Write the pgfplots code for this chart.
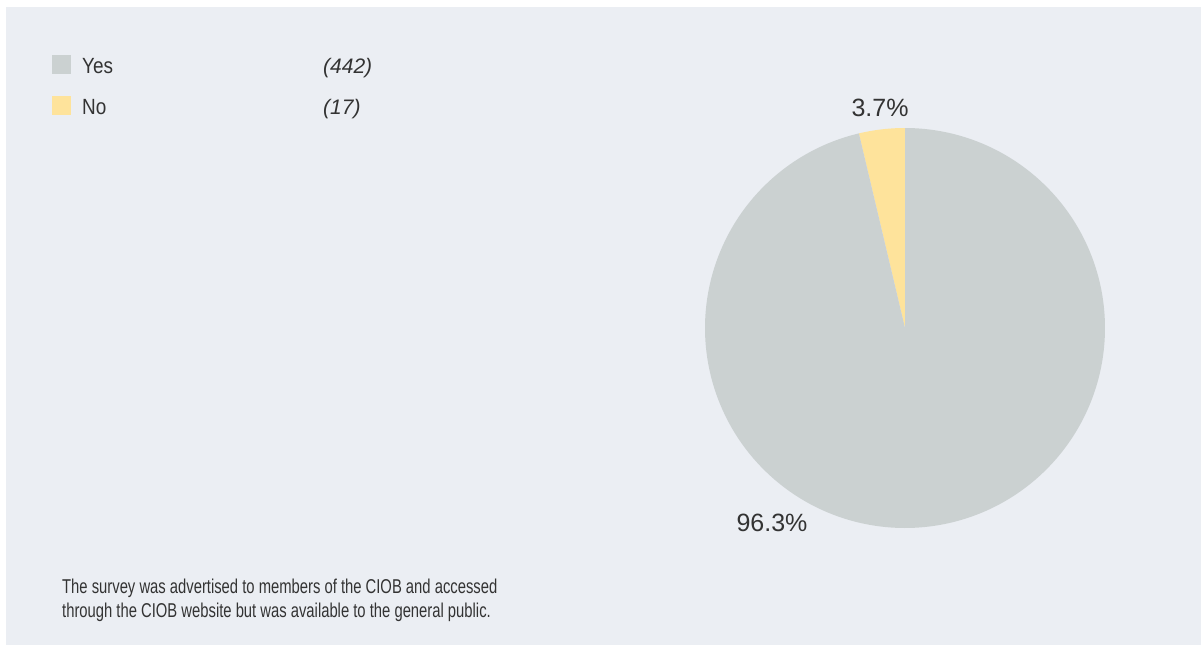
\documentclass[border=0pt]{standalone}
\usepackage{fontspec}
\setmainfont{Liberation Sans}
\newfontfamily\condfont{Liberation Sans}[FakeStretch=0.86]
\newfontfamily\notefont{Liberation Sans}[FakeStretch=0.74]
\usepackage{pgfplots}
\pgfplotsset{compat=1.18}

\definecolor{panel}{HTML}{EBEEF3}
\definecolor{yesgray}{HTML}{CBD1D1}
\definecolor{noyellow}{HTML}{FEE39B}
\definecolor{ink}{HTML}{333333}

% survey answers
\def\yescount{442}
\def\nocount{17}

\begin{document}
\begin{tikzpicture}
\pgfmathsetmacro{\total}{\yescount+\nocount}
\pgfmathsetmacro{\noShare}{\nocount/\total}
\pgfmathsetmacro{\yesShare}{\yescount/\total}
\pgfmathsetmacro{\noEnd}{90+360*\noShare}
\pgfmathsetmacro{\yesEnd}{450}
\pgfmathsetmacro{\noPct}{100*\noShare}
\pgfmathsetmacro{\yesPct}{100*\yesShare}
\begin{axis}[
  scale only axis, width=1203pt, height=645pt,
  xmin=0, xmax=1203, ymin=0, ymax=645, y dir=reverse,
  hide axis, clip=false,
]
  % page and panel
  \path[fill=white] (axis cs:0,0) rectangle (axis cs:1203,645);
  \path[fill=panel] (axis cs:6,7) rectangle (axis cs:1201,645);

  % pie: centre (905,328), radius 200, starting at the top
  \addplot[fill=noyellow, draw=none, domain=90:\noEnd, samples=40, variable=\t]
    ({905+200*cos(\t)},{328-200*sin(\t)}) -- (axis cs:905,328) -- cycle;
  \addplot[fill=yesgray, draw=none, domain=\noEnd:\yesEnd, samples=361, variable=\t]
    ({905+200*cos(\t)},{328-200*sin(\t)}) -- (axis cs:905,328) -- cycle;

  % slice labels
  \node[text=ink, font=\fontsize{25}{28}\selectfont] at (axis cs:880,108)
    {\pgfmathprintnumber[assume math mode=true,fixed,precision=1,fixed zerofill]{\noPct}\%};
  \node[text=ink, font=\fontsize{25}{28}\selectfont] at (axis cs:772,523)
    {\pgfmathprintnumber[assume math mode=true,fixed,precision=1,fixed zerofill]{\yesPct}\%};

  % legend
  \path[fill=yesgray] (axis cs:52,55) rectangle (axis cs:71,74);
  \path[fill=noyellow] (axis cs:52,96) rectangle (axis cs:71,115);
  \node[anchor=base west, inner sep=0pt, text=ink, font=\condfont\fontsize{22}{24}\selectfont] at (axis cs:82,73) {Yes};
  \node[anchor=base west, inner sep=0pt, text=ink, font=\condfont\fontsize{22}{24}\selectfont] at (axis cs:82,114) {No};
  \node[anchor=base west, inner sep=0pt, text=ink, font=\fontsize{21}{24}\selectfont\itshape] at (axis cs:323,73) {(\yescount)};
  \node[anchor=base west, inner sep=0pt, text=ink, font=\fontsize{21}{24}\selectfont\itshape] at (axis cs:323,114) {(\nocount)};

  % note
  \node[anchor=base west, inner sep=0pt, text=ink, font=\notefont\fontsize{20}{24}\selectfont] at (axis cs:62,593)
    {The survey was advertised to members of the CIOB and accessed};
  \node[anchor=base west, inner sep=0pt, text=ink, font=\notefont\fontsize{20}{24}\selectfont] at (axis cs:62,617)
    {through the CIOB website but was available to the general public.};
\end{axis}
\end{tikzpicture}
\end{document}
